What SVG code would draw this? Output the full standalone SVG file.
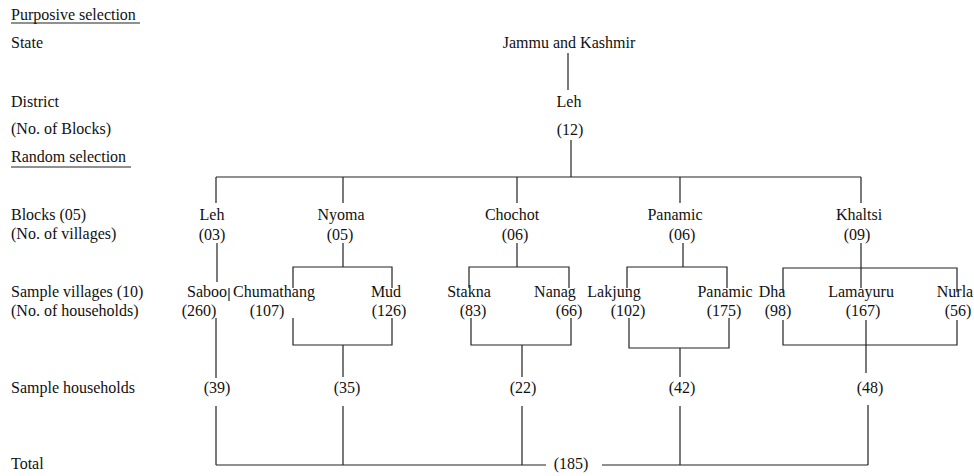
<svg xmlns="http://www.w3.org/2000/svg" width="974" height="476" viewBox="0 0 974 476">
<style>
text{font-family:'Liberation Serif','DejaVu Serif','Times New Roman',Times,serif;font-size:16px;fill:#111}
.c{text-anchor:middle}
.ln{stroke:#222;stroke-width:1.2;fill:none}
</style>
<rect width="974" height="476" fill="#fff"/>
<g id="labels">
<text x="11" y="20">Purposive selection</text>
<line class="ln" x1="11" y1="23" x2="140" y2="23"/>
<text x="11" y="48">State</text>
<text x="11" y="107">District</text>
<text x="11" y="134">(No. of Blocks)</text>
<text x="11" y="162">Random selection</text>
<line class="ln" x1="11" y1="167" x2="131" y2="167"/>
<text x="11" y="220">Blocks (05)</text>
<text x="11" y="239">(No. of villages)</text>
<text x="11" y="297">Sample villages (10)</text>
<text x="11" y="316">(No. of households)</text>
<text x="11" y="393">Sample households</text>
<text x="11" y="469">Total</text>
</g>
<g id="state"><text class="c" x="569" y="48">Jammu and Kashmir</text></g>
<g id="district"><text class="c" x="569" y="107">Leh</text><text class="c" x="570" y="135">(12)</text></g>
<g id="block-leh"><text class="c" x="212" y="220">Leh</text><text class="c" x="212" y="240">(03)</text></g>
<g id="block-nyoma"><text class="c" x="341" y="220">Nyoma</text><text class="c" x="340" y="240">(05)</text></g>
<g id="block-chochot"><text class="c" x="512" y="220">Chochot</text><text class="c" x="515" y="240">(06)</text></g>
<g id="block-panamic"><text class="c" x="675" y="220">Panamic</text><text class="c" x="682" y="240">(06)</text></g>
<g id="block-khaltsi"><text class="c" x="859" y="220">Khaltsi</text><text class="c" x="857" y="240">(09)</text></g>
<g id="v-saboo"><text class="c" x="207" y="297">Saboo</text><text class="c" x="199" y="316">(260)</text></g>
<g id="v-chumathang"><text class="c" x="274" y="297">Chumathang</text><text class="c" x="267" y="316">(107)</text></g>
<g id="v-mud"><text class="c" x="386" y="297">Mud</text><text class="c" x="389" y="316">(126)</text></g>
<g id="v-stakna"><text class="c" x="469" y="297">Stakna</text><text class="c" x="473" y="316">(83)</text></g>
<g id="v-nanag"><text class="c" x="555" y="297">Nanag</text><text class="c" x="569" y="316">(66)</text></g>
<g id="v-lakjung"><text class="c" x="614" y="297">Lakjung</text><text class="c" x="628" y="316">(102)</text></g>
<g id="v-panamic"><text class="c" x="725" y="297">Panamic</text><text class="c" x="724" y="316">(175)</text></g>
<g id="v-dha"><text class="c" x="772" y="297">Dha</text><text class="c" x="778" y="316">(98)</text></g>
<g id="v-lamayuru"><text class="c" x="861" y="297">Lamayuru</text><text class="c" x="863" y="316">(167)</text></g>
<g id="v-nurla"><text class="c" x="955" y="297">Nurla</text><text class="c" x="958" y="316">(56)</text></g>
<g id="h-leh"><text class="c" x="217" y="393">(39)</text></g>
<g id="h-nyoma"><text class="c" x="347" y="393">(35)</text></g>
<g id="h-chochot"><text class="c" x="523" y="393">(22)</text></g>
<g id="h-panamic"><text class="c" x="682" y="393">(42)</text></g>
<g id="h-khaltsi"><text class="c" x="870" y="393">(48)</text></g>
<g id="total"><text class="c" x="571" y="469">(185)</text></g>
<g id="connectors" class="ln">
<path d="M568 53V90"/>
<path d="M571 140V177"/>
<path d="M216 177H861"/>
<path d="M216 177V203M343 177V203M517 177V203M680 177V203M861 177V203"/>
<path d="M217 243V282"/>
<path d="M229 288V301"/>
<path d="M343 243V267M293 288V267H392V288"/>
<path d="M517 243V267M469 288V267H569V288"/>
<path d="M683 243V267M627 288V267H727V288"/>
<path d="M861 243V288M783 293V268H957V292"/>
<path d="M216 318V378M216 406V465"/>
<path d="M293 318V345H392V318M343 345V377M343 406V465"/>
<path d="M471 318V345H571V318M522 345V377M522 406V465"/>
<path d="M629 318V348H729V318M680 348V377M680 406V465"/>
<path d="M783 320V345H957V320M866 320V373M868 405V465"/>
<path d="M216 465H546M602 465H868"/>
</g>
</svg>
